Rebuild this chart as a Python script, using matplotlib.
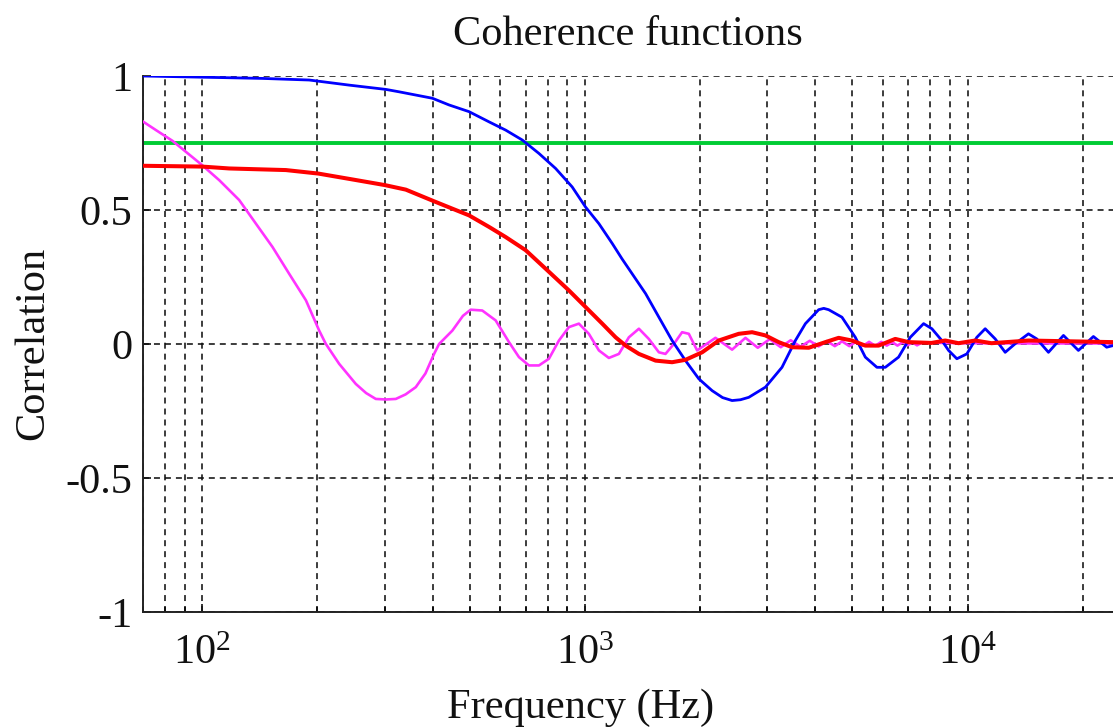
import matplotlib
matplotlib.use("Agg")
import matplotlib.pyplot as plt
from matplotlib.ticker import FixedLocator, NullFormatter

plt.rcParams['font.family'] = ['Liberation Serif', 'DejaVu Serif']
plt.rcParams['mathtext.fontset'] = 'custom'
plt.rcParams['mathtext.rm'] = 'Liberation Serif'
plt.rcParams['mathtext.it'] = 'Liberation Serif:italic'
plt.rcParams['axes.unicode_minus'] = False
plt.rcParams['lines.scale_dashes'] = False

# ---------------- data ----------------
title_text = "Coherence functions"
x_label = "Frequency (Hz)"
y_label = "Correlation"

x_major_ticks = [100, 1000, 10000]
x_major_labels = ['$10^{2}$', '$10^{3}$', '$10^{4}$']
x_minor_ticks = [70, 80, 90, 200, 300, 400, 500, 600, 700, 800, 900,
                 2000, 3000, 4000, 5000, 6000, 7000, 8000, 9000, 20000]
y_ticks = [-1, -0.5, 0, 0.5, 1]
y_tick_labels = ['-1', '-0.5', '0', '0.5', '1']
x_range = [70, 24000]
y_range = [-1, 1]

threshold_level = 0.75

blue_freq = [70, 143.5, 190.3, 242.0, 301.8, 326.9, 399.3, 441.5, 497.9, 561.5,
             620.9, 686.3, 758.5, 838.5, 926.4, 1004, 1088, 1179, 1250, 1329, 1441,
             1561, 1690, 1832, 1985, 2150, 2290, 2425, 2550, 2681, 2964, 3274, 3549,
             3770, 4083, 4210, 4336, 4697, 5090, 5406, 5797, 6097, 6604, 7086,
             7677, 8069, 8569, 8923, 9378, 9959, 10576, 11122, 11812, 12544,
             13321, 14430, 15171, 16275, 17813, 19490, 21330, 23100, 24000]
blue_vals = [1.0, 0.991, 0.985, 0.966, 0.950, 0.941, 0.917, 0.892, 0.867, 0.829,
             0.798, 0.761, 0.711, 0.655, 0.586, 0.511, 0.449, 0.375, 0.318, 0.262, 0.188,
             0.100, 0.013, -0.062, -0.130, -0.174, -0.200, -0.211, -0.208, -0.199, -0.161, -0.087, 0.013,
             0.076, 0.128, 0.133, 0.128, 0.100, 0.025, -0.049, -0.087, -0.087, -0.049, 0.025,
             0.076, 0.057, 0.013, -0.024, -0.055, -0.037, 0.025, 0.057, 0.019, -0.031,
             0.001, 0.038, 0.019, -0.031, 0.032, -0.024, 0.028, -0.012, -0.006]

red_freq = [70, 100, 117.6, 165.4, 200.9, 246.9, 299.9, 340.4, 402.7, 450.4,
            497.9, 561.5, 620.9, 700.1, 789.4, 908.2, 1004, 1110, 1203, 1278,
            1384, 1530, 1690, 1832, 2025, 2238, 2523, 2735, 2964, 3210,
            3478, 3846, 4251, 4605, 4988, 5406, 5856, 6474, 7015, 8054,
            8746, 9474, 10474, 11554, 14430, 24000]
red_vals = [0.665, 0.662, 0.655, 0.649, 0.636, 0.614, 0.593, 0.576, 0.533, 0.505,
            0.480, 0.437, 0.399, 0.350, 0.281, 0.200, 0.138, 0.076, 0.025, -0.006,
            -0.037, -0.062, -0.068, -0.059, -0.031, 0.013, 0.038, 0.044, 0.032, 0.007,
            -0.012, -0.014, 0.007, 0.023, 0.013, -0.006, -0.006, 0.019, 0.007, 0.004,
            0.013, 0.003, 0.013, 0.003, 0.013, 0.007]

magenta_freq = [70, 75.7, 83.6, 100, 110.8, 124.9, 138.1, 152.6, 168.7, 186.6,
                202.1, 210.4, 227.9, 251.9, 268, 284.1, 301.8, 320.5, 340, 361.4, 383, 403.5, 415.8,
                450.4, 480, 502.9, 539.2, 584.5, 633.3, 672.5, 714.2, 758.5, 805.4, 855.3,
                908.2, 964.5, 1024, 1088, 1155, 1227, 1303, 1384, 1469, 1561,
                1624, 1708, 1795, 1869, 1965, 2194, 2425, 2628, 2830, 3040,
                3250, 3450, 3660, 3870, 4080, 4290, 4500, 4700, 4910, 5120,
                5330, 5530, 5740, 5950, 6150, 6360, 6560, 6770, 6970, 7180,
                7380, 7590, 10000, 15000, 24000]
magenta_vals = [0.830, 0.798, 0.758, 0.667, 0.611, 0.537, 0.449, 0.362, 0.262, 0.163,
                0.050, 0.0, -0.074, -0.149, -0.183, -0.205, -0.207, -0.205, -0.188, -0.161, -0.110, -0.037, 0.0,
                0.050, 0.105, 0.128, 0.125, 0.088, 0.007, -0.049, -0.080, -0.080, -0.055, 0.013,
                0.063, 0.076, 0.038, -0.024, -0.052, -0.037, 0.025, 0.057, 0.019, -0.031,
                -0.037, 0.0, 0.044, 0.038, -0.024, 0.023, -0.021, 0.023, -0.014, 0.018,
                -0.012, 0.014, -0.010, 0.012, -0.009, 0.011, -0.008, 0.010, -0.008, 0.009,
                -0.007, 0.008, -0.007, 0.008, -0.006, 0.007, -0.006, 0.007, -0.005, 0.006,
                -0.005, 0.005, 0.003, 0.002, 0.002]

# ---------------- figure ----------------
W, H = 1113, 727
fig = plt.figure(figsize=(W / 100, H / 100), dpi=100)
ax_left, ax_right, ax_top, ax_bottom = 143, 1113, 76, 612
ax = fig.add_axes([ax_left / W, 1 - ax_bottom / H,
                   (ax_right - ax_left) / W, (ax_bottom - ax_top) / H])

FS = 30.5

ax.set_xscale('log')
ax.set_xlim(x_range)
ax.set_ylim(y_range)

ax.axhline(threshold_level, color='#00cc33', lw=2.8, zorder=2)
ax.plot(magenta_freq, magenta_vals, color='#ff33ff', lw=1.9, zorder=3)
ax.plot(blue_freq, blue_vals, color='#0000ff', lw=2.0, zorder=4)
ax.plot(red_freq, red_vals, color='#ff0000', lw=2.9, zorder=5)

ax.xaxis.set_major_locator(FixedLocator(x_major_ticks))
ax.xaxis.set_minor_locator(FixedLocator(x_minor_ticks))
ax.set_xticklabels(x_major_labels)
ax.xaxis.set_minor_formatter(NullFormatter())
ax.set_yticks(y_ticks)
ax.set_yticklabels(y_tick_labels)

grid_kw = dict(color='#111111', lw=1.15, linestyle=(0, (4.3, 3.6)))
ax.grid(True, which='both', axis='x', **grid_kw)
ax.grid(True, which='major', axis='y', **grid_kw)
ax.set_axisbelow(True)

for s in ['top', 'right']:
    ax.spines[s].set_visible(False)
for s in ['left', 'bottom']:
    ax.spines[s].set_linewidth(1.4)
    ax.spines[s].set_color('#222222')

ax.tick_params(axis='both', which='major', direction='in', length=6, width=1.2,
               labelsize=FS, colors='#111111')
ax.tick_params(axis='x', which='minor', direction='in', length=3.5, width=1.1)
ax.tick_params(axis='x', which='major', pad=16)
ax.tick_params(axis='y', which='major', pad=7.5)

ax.set_title(title_text, fontsize=FS, pad=22, color='#111111')
ax.set_xlabel(x_label, fontsize=FS, color='#111111')
ax.xaxis.set_label_coords((581 - ax_left) / (ax_right - ax_left),
                          (ax_bottom - 718) / (ax_bottom - ax_top))
ax.xaxis.label.set_va('baseline')
ax.set_ylabel(y_label, fontsize=FS, color='#111111')
ax.yaxis.set_label_coords((33 - ax_left) / (ax_right - ax_left),
                          (ax_bottom - 343) / (ax_bottom - ax_top))
ax.yaxis.label.set_va('center')

fig.savefig('out.png', dpi=100)
